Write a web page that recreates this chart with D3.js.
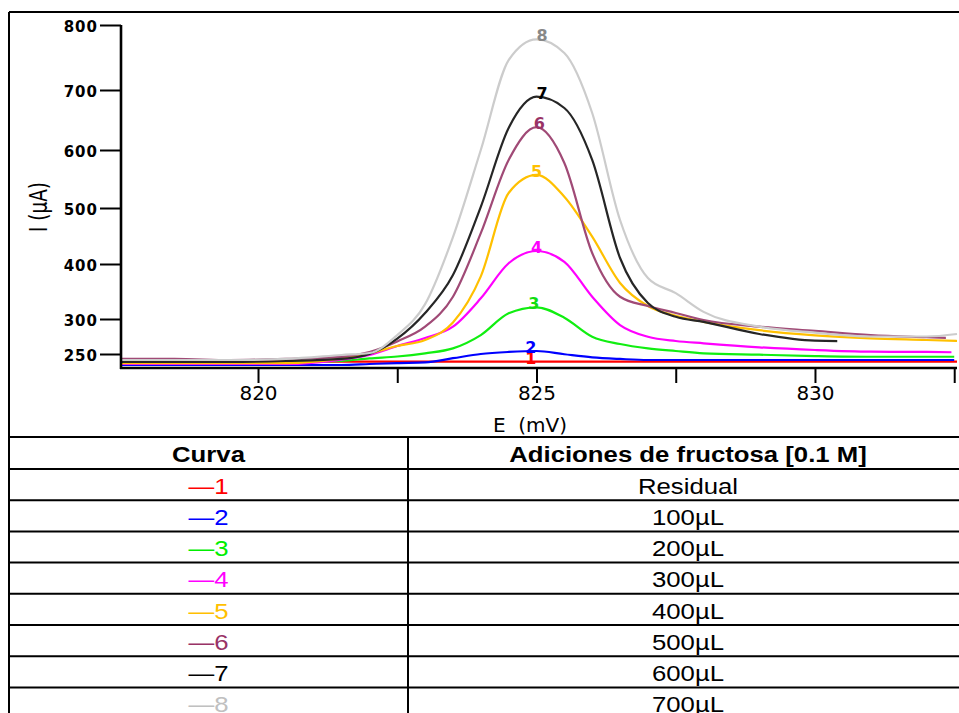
<!DOCTYPE html>
<html lang="es">

<head>
    <meta charset="UTF-8">
    <title>Adiciones de fructosa</title>
    <script src="https://d3js.org/d3.v7.min.js"></script>
    <style type="text/css">
        body {
            margin: 0;
            background: #fff;
        }

        .yaxis text {
            font-family: "DejaVu Sans";
            font-weight: bold;
            font-size: 15px;
            letter-spacing: 1px;
        }

        .xaxis text {
            font-family: "DejaVu Sans";
            font-size: 20px;
        }

        .curve-label {
            font-family: "DejaVu Sans";
            font-weight: bold;
            font-size: 16px;
        }

        .table-text {
            font-family: "Liberation Sans", Arial;
            font-size: 23px;
        }
    </style>
</head>

<body>
    <div id="chartArea"></div>
    <script type="text/javascript">
        // potential (mV) where each curve was read
        var potentials = [817.55, 818.5, 819.5, 820.5, 821.5, 822, 822.5, 823, 823.5, 824, 824.5, 825,
            825.5, 826, 826.5, 827, 827.5, 828, 829, 830, 831, 832, 832.55];

        // current (uA) of each curve
        var curve1 = [239, 239, 239, 239, 239, 239, 239, 239, 239, 239, 239, 239,
            239, 239, 239, 239, 239, 239, 239, 239, 239, 239, 239];
        var curve2 = [234.3, 234.3, 234.3, 234.3, 234.3, 235.7, 237.1, 238, 244, 250, 252.9, 254.3,
            249.6, 245.2, 242.9, 241.4, 241.4, 241.4, 241.4, 241.4, 241.4, 241.4, 241.4];
        var curve3 = [237.9, 237.9, 237.9, 237.9, 240, 243.8, 246.4, 251, 258, 277, 310.4, 321.3,
            302.4, 274.7, 264.3, 258.1, 254.3, 251, 249, 247.1, 246.1, 246.1, 246.1];
        var curve4 = [235.7, 235.7, 235.7, 235.7, 242, 248.6, 261.4, 272.9, 289, 337.6, 401.3, 423.2,
            404, 340.5, 291.4, 274.7, 268.6, 265.3, 259.6, 255.7, 253.3, 252.9, 252.4];
        var curve5 = [237, 237, 237, 237, 243.8, 251, 261.4, 270, 295, 377.6, 525.9, 557,
            519.5, 448.8, 365.5, 323.6, 305.7, 296, 284, 276.7, 272.4, 270, 268.6];
        var curve6 = [242.9, 242.9, 241.4, 242.9, 246, 252.9, 268, 289, 340.5, 455, 582.8, 638,
            577.6, 419.6, 340.5, 323.6, 311, 298.6, 289, 283, 277, 273.9, 272.4];
        var curve7 = [238.6, 238.6, 238.6, 240, 243, 250, 272, 311, 380, 502, 636.7, 688.8,
            670, 582.8, 410.7, 329, 304, 296, 278.6, 269, 268, null, null];
        var curve8 = [241.4, 241.4, 241.4, 243, 248.6, 251.4, 277, 327, 448, 600, 746, 778,
            757, 661.7, 478.6, 374.5, 347, 313, 289, 280.4, 275, 275, 278.6];

        var curveNames = ['1', '2', '3', '4', '5', '6', '7', '8'];
        var additions = ['Residual', '100µL', '200µL', '300µL', '400µL', '500µL', '600µL', '700µL'];
        var peakE = [824.9, 824.9, 824.95, 825.0, 825.0, 825.05, 825.1, 825.1];
        var endE = [832.6, 832.5, 832.5, 832.45, 832.55, 832.35, 830.4, 832.6];

        var yTicks = [250, 300, 400, 500, 600, 700, 800];
        var xTicks = [820, 822.5, 825, 827.5, 830, 832.5];
        var xTickLabels = ['820', '', '825', '', '830', ''];

        var curves = [curve1, curve2, curve3, curve4, curve5, curve6, curve7, curve8];
        var lineColors = ['#ff0000', '#0000ff', '#11ee11', '#ff00ff', '#ffc000', '#a04a76', '#262626', '#cccccc'];
        var labelColors = ['#ff0000', '#0000ff', '#11dd11', '#ff00ff', '#ffc000', '#993366', '#000000', '#888888'];
        var tableColors = ['#ff0000', '#0000ff', '#00ee00', '#ff00ff', '#ffc000', '#993366', '#000000', '#c0c0c0'];

        var w = 959, h = 713;
        var plotLeft = 121, plotRight = 957, plotTop = 25, plotBottom = 368;
        // y ticks of the instrument are not evenly spaced
        var yTickPx = [354, 319, 264, 208, 150, 90, 25];

        var svg = d3.select('#chartArea').append('svg')
            .attr('width', w)
            .attr('height', h);

        var xScale = d3.scaleLinear()
            .domain([817.54, 832.55])
            .range([plotLeft, plotRight]);

        var yScale = d3.scaleLinear()
            .domain(yTicks)
            .range(yTickPx);

        // outer frame
        svg.append('line')
            .attr('x1', 9).attr('x2', w + 5).attr('y1', 12).attr('y2', 12)
            .attr('stroke', '#000').attr('stroke-width', 1.8);
        svg.append('line')
            .attr('x1', 9).attr('x2', 9).attr('y1', 12).attr('y2', h + 5)
            .attr('stroke', '#000').attr('stroke-width', 2);

        // curves
        var defs = svg.append('defs');
        var line = d3.line()
            .defined(function (d) { return d[1] != null; })
            .x(function (d) { return xScale(d[0]); })
            .y(function (d) { return yScale(d[1]); })
            .curve(d3.curveMonotoneX);

        curves.forEach(function (c, i) {
            defs.append('clipPath')
                .attr('id', 'clip' + i)
                .append('rect')
                .attr('x', plotLeft)
                .attr('y', 0)
                .attr('width', xScale(endE[i]) - plotLeft)
                .attr('height', plotBottom - 1);

            var pts = potentials.map(function (e, k) { return [e, c[k]]; });
            svg.append('path')
                .datum(pts)
                .attr('clip-path', 'url(#clip' + i + ')')
                .attr('fill', 'none')
                .attr('stroke', lineColors[i])
                .attr('stroke-width', 2.2)
                .attr('stroke-linejoin', 'round')
                .attr('d', line);
        });

        curves.forEach(function (c, i) {
            svg.append('text')
                .attr('class', 'curve-label')
                .attr('x', xScale(peakE[i]))
                .attr('y', yScale(d3.max(c)) + 2)
                .attr('text-anchor', 'middle')
                .attr('fill', labelColors[i])
                .text(curveNames[i]);
        });

        // axes
        var yAxis = d3.axisLeft(yScale)
            .tickValues(yTicks)
            .tickSize(21)
            .tickPadding(2);

        var gy = svg.append('g')
            .attr('class', 'yaxis')
            .attr('transform', 'translate(' + plotLeft + ',0)')
            .call(yAxis);
        gy.select('.domain').remove();
        gy.selectAll('.tick line').attr('stroke', '#000').attr('stroke-width', 2);
        gy.selectAll('.tick text').attr('fill', '#000').attr('y', 1.5);

        var xAxis = d3.axisBottom(xScale)
            .tickValues(xTicks)
            .tickSize(15)
            .tickPadding(3)
            .tickFormat(function (d, i) { return xTickLabels[i]; });

        var gx = svg.append('g')
            .attr('class', 'xaxis')
            .attr('transform', 'translate(0,' + plotBottom + ')')
            .call(xAxis);
        gx.select('.domain').remove();
        gx.selectAll('.tick line').attr('stroke', '#000').attr('stroke-width', 2);
        gx.selectAll('.tick text').attr('fill', '#000');

        svg.append('line')
            .attr('x1', plotLeft).attr('x2', plotLeft)
            .attr('y1', plotTop).attr('y2', plotBottom + 1)
            .attr('stroke', '#000').attr('stroke-width', 2.6);
        svg.append('line')
            .attr('x1', plotLeft - 1).attr('x2', plotRight)
            .attr('y1', plotBottom).attr('y2', plotBottom)
            .attr('stroke', '#000').attr('stroke-width', 2.6);

        svg.append('text')
            .attr('x', 530)
            .attr('y', 432)
            .attr('text-anchor', 'middle')
            .style('font-family', 'DejaVu Sans')
            .style('font-size', '20px')
            .style('white-space', 'pre')
            .text('E  (mV)');

        svg.append('text')
            .attr('transform', 'translate(47,207) rotate(-90) scale(0.92,1.2)')
            .attr('text-anchor', 'middle')
            .style('font-family', 'DejaVu Sans')
            .style('font-size', '20px')
            .text('I (µA)');

        // table with the additions
        var tableTop = 437, headerH = 32, rowH = 31.2;
        var colLeft = 9, colSplit = 408, colRight = 968;
        var rowLines = [tableTop, tableTop + headerH];
        additions.forEach(function (a, i) {
            rowLines.push(tableTop + headerH + (i + 1) * rowH);
        });

        svg.selectAll('.row-line')
            .data(rowLines)
            .enter()
            .append('line')
            .attr('class', 'row-line')
            .attr('x1', colLeft).attr('x2', colRight)
            .attr('y1', function (d) { return d; })
            .attr('y2', function (d) { return d; })
            .attr('stroke', '#000')
            .attr('stroke-width', 2);

        svg.append('line')
            .attr('x1', colSplit).attr('x2', colSplit)
            .attr('y1', tableTop).attr('y2', h + 5)
            .attr('stroke', '#000').attr('stroke-width', 2);

        var c1 = (colLeft + colSplit) / 2, c2 = (colSplit + colRight) / 2;

        function cellText(x, y, txt, color, bold) {
            svg.append('text')
                .attr('class', 'table-text')
                .attr('transform', 'translate(' + x + ',' + y + ') scale(1.12,1)')
                .attr('text-anchor', 'middle')
                .attr('fill', color)
                .style('font-weight', bold ? 'bold' : 'normal')
                .text(txt);
        }

        cellText(c1, tableTop + headerH - 7, 'Curva', '#000', true);
        cellText(c2, tableTop + headerH - 7, 'Adiciones de fructosa [0.1 M]', '#000', true);

        additions.forEach(function (a, i) {
            var yb = tableTop + headerH + (i + 1) * rowH - 6.5;
            cellText(c1, yb, '\u2014' + curveNames[i], tableColors[i], false);
            cellText(c2, yb, a, '#000', false);
        });
    </script>
</body>

</html>
